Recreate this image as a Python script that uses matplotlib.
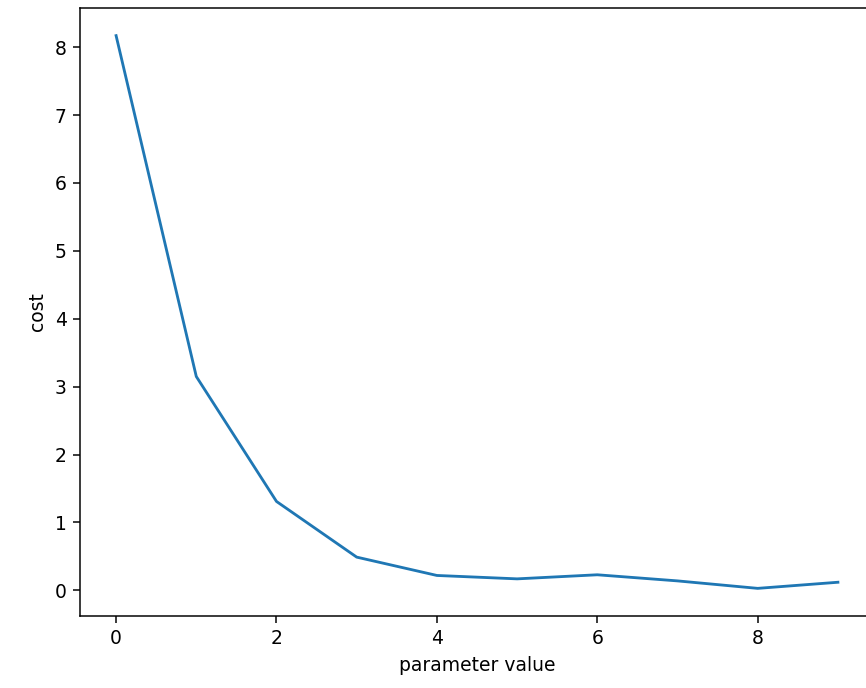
import matplotlib
matplotlib.use('Agg')
import matplotlib.pyplot as plt

# values
param = [0, 1, 2, 3, 4, 5, 6, 7, 8, 9]
cost = [8.17, 3.15, 1.31, 0.49, 0.22, 0.17, 0.23, 0.14, 0.03, 0.12]

fig = plt.figure(figsize=(866 / 135, 688 / 135), dpi=135)
# the reference is cropped on the right, so the axes run past the figure edge
ax = fig.add_axes([80 / 866, 72 / 688, 794 / 866, 608 / 688])
ax.plot(param, cost)
ax.set_xlabel('parameter value')
ax.set_ylabel('cost')
fig.savefig('out.png', dpi=135)
